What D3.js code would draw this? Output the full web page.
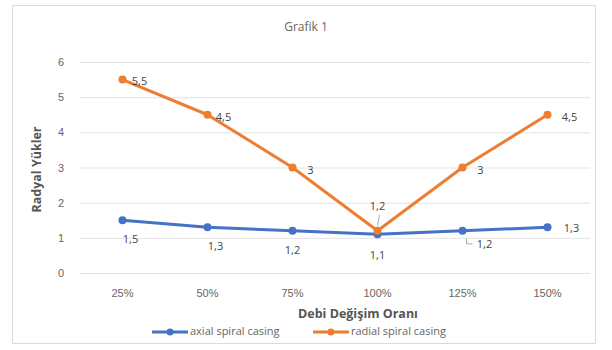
<!DOCTYPE html>
<html>
<head>
<meta charset="utf-8">
<script src="https://cdn.jsdelivr.net/npm/d3@7"></script>
<style>
  html, body { margin: 0; padding: 0; background: #fff; }
  svg { display: block; font-family: "Open Sans", "Liberation Sans", sans-serif; }
</style>
</head>
<body>
<svg id="chart" width="612" height="350"></svg>
<script>
// Flow-rate categories and radial loads for the two casing types
const categories = ["25%", "50%", "75%", "100%", "125%", "150%"];
const axialValues = [1.5, 1.3, 1.2, 1.1, 1.2, 1.3];
const radialValues = [5.5, 4.5, 3, 1.2, 3, 4.5];
const yTicks = [0, 1, 2, 3, 4, 5, 6];
const seriesNames = ["axial spiral casing", "radial spiral casing"];

// label placement for each point: [dx, dy] relative to marker
const axialLabelPos = [[8, 20], [8, 20], [0, 20], [0, 22], [22, 14], [24, 2]];
const radialLabelPos = [[17, 2], [16, 3], [18, 4], [0, -24], [18, 4], [22, 3]];

const svg = d3.select("#chart");
const W = 612, H = 350;
const margin = { left: 80, right: 22, top: 62, bottom: 77 };

// outer frame
svg.append("rect")
  .attr("x", 12.5).attr("y", 5.5)
  .attr("width", 583).attr("height", 338)
  .attr("fill", "#fff").attr("stroke", "#d9d9d9");

const x = d3.scaleBand().domain(categories).range([margin.left, W - margin.right]);
const y = d3.scaleLinear().domain([0, 6]).range([H - margin.bottom, margin.top]);
const cx = d => x(d) + x.bandwidth() / 2;

// gridlines
svg.append("g").selectAll("line").data(yTicks).join("line")
  .attr("x1", margin.left).attr("x2", W - margin.right)
  .attr("y1", d => y(d) + 0.5).attr("y2", d => y(d) + 0.5)
  .attr("stroke", "#e3e3e3").attr("stroke-width", 1);

// y axis tick labels
const yAxis = d3.axisLeft(y).tickValues(yTicks).tickFormat(d3.format("d")).tickSize(0).tickPadding(16);
svg.append("g").attr("transform", `translate(${margin.left},0)`).call(yAxis)
  .call(g => g.select(".domain").remove())
  .call(g => g.selectAll("text").attr("fill", "#666").attr("font-size", 11));

// x axis tick labels
const xAxis = d3.axisBottom(x).tickSize(0).tickPadding(16);
svg.append("g").attr("transform", `translate(0,${y(0)})`).call(xAxis)
  .call(g => g.select(".domain").remove())
  .call(g => g.selectAll("text").attr("fill", "#666").attr("font-size", 11));

// title
svg.append("text").attr("x", 306).attr("y", 31).attr("text-anchor", "middle")
  .attr("font-size", 12).attr("fill", "#666").text("Grafik 1");

// axis titles
svg.append("text").attr("x", 358).attr("y", 318).attr("text-anchor", "middle")
  .attr("font-size", 12.5).attr("font-weight", "bold").attr("fill", "#555")
  .text("Debi Değişim Oranı");
svg.append("text")
  .attr("transform", `translate(41,${(y(0) + y(6)) / 2 + 2}) rotate(-90)`)
  .attr("text-anchor", "middle")
  .attr("font-size", 12.5).attr("font-weight", "bold").attr("fill", "#555")
  .text("Radyal Yükler");

const line = d3.line().x((d, i) => cx(categories[i])).y(d => y(d));

function drawSeries(values, color, labelPos, leaders) {
  const g = svg.append("g");
  g.append("path").datum(values).attr("d", line)
    .attr("fill", "none").attr("stroke", color).attr("stroke-width", 3)
    .attr("stroke-linejoin", "round");
  g.selectAll("circle").data(values).join("circle")
    .attr("cx", (d, i) => cx(categories[i])).attr("cy", d => y(d))
    .attr("r", 4).attr("fill", color);
  g.selectAll("text").data(values).join("text")
    .attr("x", (d, i) => cx(categories[i]) + labelPos[i][0])
    .attr("y", (d, i) => y(d) + labelPos[i][1])
    .attr("text-anchor", "middle").attr("dominant-baseline", "middle")
    .attr("font-size", 11).attr("fill", "#444")
    .text(d => String(d).replace(".", ","));
  leaders.forEach(([i, x1, y1, x2, y2]) => {
    const px = cx(categories[i]), py = y(values[i]);
    g.append("line")
      .attr("x1", px + x1).attr("y1", py + y1)
      .attr("x2", px + x2).attr("y2", py + y2)
      .attr("stroke", "#aaa").attr("stroke-width", 1);
  });
}

drawSeries(axialValues, "#4472C4", axialLabelPos, [[4, 4, 8, 4, 13], [4, 4, 13, 10, 13]]);
drawSeries(radialValues, "#ED7D31", radialLabelPos, [[3, 2, -16, 0, -5]]);

// legend
const legend = svg.append("g").attr("transform", "translate(0,332)");
const legendItems = [
  { name: seriesNames[0], color: "#4472C4", x: 152 },
  { name: seriesNames[1], color: "#ED7D31", x: 313 }
];
legendItems.forEach(it => {
  legend.append("line").attr("x1", it.x).attr("x2", it.x + 36)
    .attr("y1", 0).attr("y2", 0).attr("stroke", it.color).attr("stroke-width", 3);
  legend.append("circle").attr("cx", it.x + 18).attr("cy", 0).attr("r", 3.5).attr("fill", it.color);
  legend.append("text").attr("x", it.x + 38).attr("y", 0)
    .attr("dominant-baseline", "middle").attr("font-size", 11).attr("fill", "#666")
    .text(it.name);
});
</script>
</body>
</html>
